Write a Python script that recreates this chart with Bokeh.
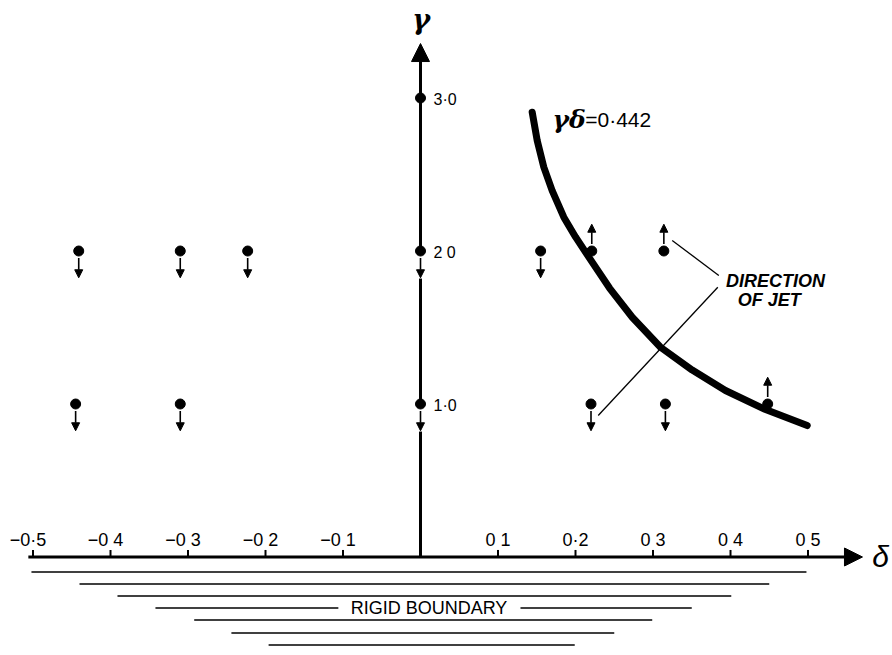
from bokeh.plotting import figure
from bokeh.models import ColumnDataSource, Arrow, NormalHead, Range1d
from bokeh.core.properties import value
from bokeh.embed import file_html
from bokeh.resources import INLINE

# ---------------- data ----------------
delta_ticks = [-0.5, -0.4, -0.3, -0.2, -0.1, 0.1, 0.2, 0.3, 0.4, 0.5]
delta_labels = ["−0·5", "−0 4", "−0 3", "−0 2", "−0 1", "0 1", "0·2", "0 3", "0 4", "0 5"]
gamma_ticks = [1.0, 2.0, 3.0]
gamma_labels = ["1·0", "2 0", "3·0"]

point_delta = [-0.441, -0.310, -0.223, 0.0, 0.155, 0.221, 0.314,
               -0.445, -0.310, 0.0, 0.220, 0.316, 0.448, 0.0]
point_gamma = [2.0, 2.0, 2.0, 2.0, 2.0, 2.0, 2.0,
               1.0, 1.0, 1.0, 1.0, 1.0, 1.0, 3.0]
jet_direction = [-1, -1, -1, -1, -1, 1, 1,
                 -1, -1, -1, -1, -1, 1, 0]   # -1 down, +1 up, 0 none

curve_delta = [0.1441, 0.1506, 0.1591, 0.1699, 0.1849, 0.2000, 0.2172,
               0.2439, 0.2732, 0.3097, 0.3506, 0.3935, 0.4452, 0.4990]
curve_gamma = [2.907, 2.722, 2.548, 2.395, 2.221, 2.092, 1.960,
               1.758, 1.567, 1.371, 1.222, 1.088, 0.964, 0.859]
curve_label = "γδ"
curve_value = "=0·442"

boundary_depth = [-0.098, -0.176, -0.255, -0.333, -0.412, -0.497, -0.575]
boundary_left = [-0.502, -0.440, -0.391, -0.342, -0.292, -0.244, -0.196]
boundary_right = [0.498, 0.450, 0.401, 0.350, 0.299, 0.250, 0.199]
boundary_text = "RIGID BOUNDARY"

jet_text = ["DIRECTION", "OF JET"]
axis_x_label = "δ"
axis_y_label = "γ"

FONT = "Liberation Sans"
GREEK = "DejaVu Serif"

# ---------------- figure ----------------
p = figure(width=892, height=655,
           x_range=Range1d(-0.54194, 0.60903),
           y_range=Range1d(-0.6438, 3.6373),
           output_backend="svg", toolbar_location=None,
           x_axis_location=None, y_axis_location=None,
           min_border=0, outline_line_color=None,
           background_fill_color="white", border_fill_color="white")
p.xgrid.grid_line_color = None
p.ygrid.grid_line_color = None
p.grid.visible = False

# x axis line with arrow
p.add_layout(Arrow(x_start=-0.506, y_start=0, x_end=0.5703, y_end=0,
                   line_width=3, line_color="black",
                   end=NormalHead(size=18, fill_color="black", line_color="black")))
# x ticks
p.segment(x0=delta_ticks, y0=[0] * len(delta_ticks), x1=delta_ticks,
          y1=[0.046] * len(delta_ticks), line_width=2, line_color="black")
xlab = ColumnDataSource(dict(x=delta_ticks, y=[0] * len(delta_ticks), t=delta_labels,
                             xo=[-5 if d < 0 else 0 for d in delta_ticks]))
p.text(x="x", y="y", text="t", x_offset="xo", y_offset=-17, source=xlab,
       text_align="center", text_baseline="alphabetic",
       text_font=value(FONT), text_font_size="18px", text_color="black")

# y axis: segments interrupted by the down arrows on the axis
arrow_near = 0.045
arrow_far = 0.175
gap_far = 0.18
p.segment(x0=[0, 0], y0=[0, gamma_ticks[0]],
          x1=[0, 0], y1=[gamma_ticks[0] - gap_far, gamma_ticks[1] - gap_far],
          line_width=3, line_color="black")
p.add_layout(Arrow(x_start=0, y_start=gamma_ticks[1], x_end=0, y_end=3.356,
                   line_width=3, line_color="black",
                   end=NormalHead(size=18, fill_color="black", line_color="black")))
ylab = ColumnDataSource(dict(x=[0] * len(gamma_ticks), y=gamma_ticks, t=gamma_labels))
p.text(x="x", y="y", text="t", x_offset=13, y_offset=1, source=ylab,
       text_align="left", text_baseline="middle",
       text_font=value(FONT), text_font_size="16px", text_color="black")

# axis names
p.text(x=[0.001], y=[3.513], text=[axis_y_label], text_align="center",
       text_baseline="middle", text_font=value(GREEK), text_font_size="27px",
       text_font_style="bold italic", text_color="black")
p.text(x=[0.5935], y=[0.0], text=[axis_x_label], text_align="center",
       text_baseline="middle", text_font=value(FONT), text_font_size="30px",
       text_font_style="italic", text_color="black")

# curve gamma*delta = const
p.line(curve_delta, curve_gamma, line_width=7, line_color="black",
       line_cap="round", line_join="round")
p.text(x=[0.1703], y=[2.862], text=[curve_label], text_align="left",
       text_baseline="alphabetic", text_font=value(GREEK), text_font_size="25px",
       text_font_style="bold italic", text_color="black")
p.text(x=[0.2125], y=[2.862], text=[curve_value], text_align="left",
       text_baseline="alphabetic", text_font=value(FONT), text_font_size="21px",
       text_color="black")

# experiment points
p.scatter(point_delta, point_gamma, size=10, color="black")

# jet direction arrows
ad = [d for d, s in zip(point_delta, jet_direction) if s != 0]
ag = [g for g, s in zip(point_gamma, jet_direction) if s != 0]
asg = [s for s in jet_direction if s != 0]
arr = ColumnDataSource(dict(
    x0=ad, x1=ad,
    y0=[g + s * arrow_near for g, s in zip(ag, asg)],
    y1=[g + s * arrow_far for g, s in zip(ag, asg)]))
p.add_layout(Arrow(x_start="x0", y_start="y0", x_end="x1", y_end="y1", source=arr,
                   line_width=1.6, line_color="black",
                   end=NormalHead(size=8, fill_color="black", line_color="black")))

# leader lines to annotation
p.segment(x0=[0.3248, 0.3836], y0=[2.069, 1.763], x1=[0.3849, 0.2293], y1=[1.840, 0.925],
          line_width=1.3, line_color="black")
p.text(x=[0.458, 0.450], y=[1.807, 1.683], text=jet_text, text_align="center",
       text_baseline="middle", text_font=value(FONT), text_font_size="18px",
       text_font_style="bold italic", text_color="black")

# rigid boundary hatch lines
bx0, bx1, by = [], [], []
for i, (d, l, r) in enumerate(zip(boundary_depth, boundary_left, boundary_right)):
    if i == 3:
        bx0 += [l, 0.129]
        bx1 += [-0.106, r]
        by += [d, d]
    else:
        bx0.append(l)
        bx1.append(r)
        by.append(d)
p.segment(x0=bx0, y0=by, x1=bx1, y1=by, line_width=1.5, line_color="black")
p.text(x=[0.011], y=[boundary_depth[3]], text=[boundary_text], text_align="center",
       text_baseline="middle", text_font=value(FONT), text_font_size="18px",
       text_color="black")

open("out.html", "w").write(file_html(p, INLINE))
